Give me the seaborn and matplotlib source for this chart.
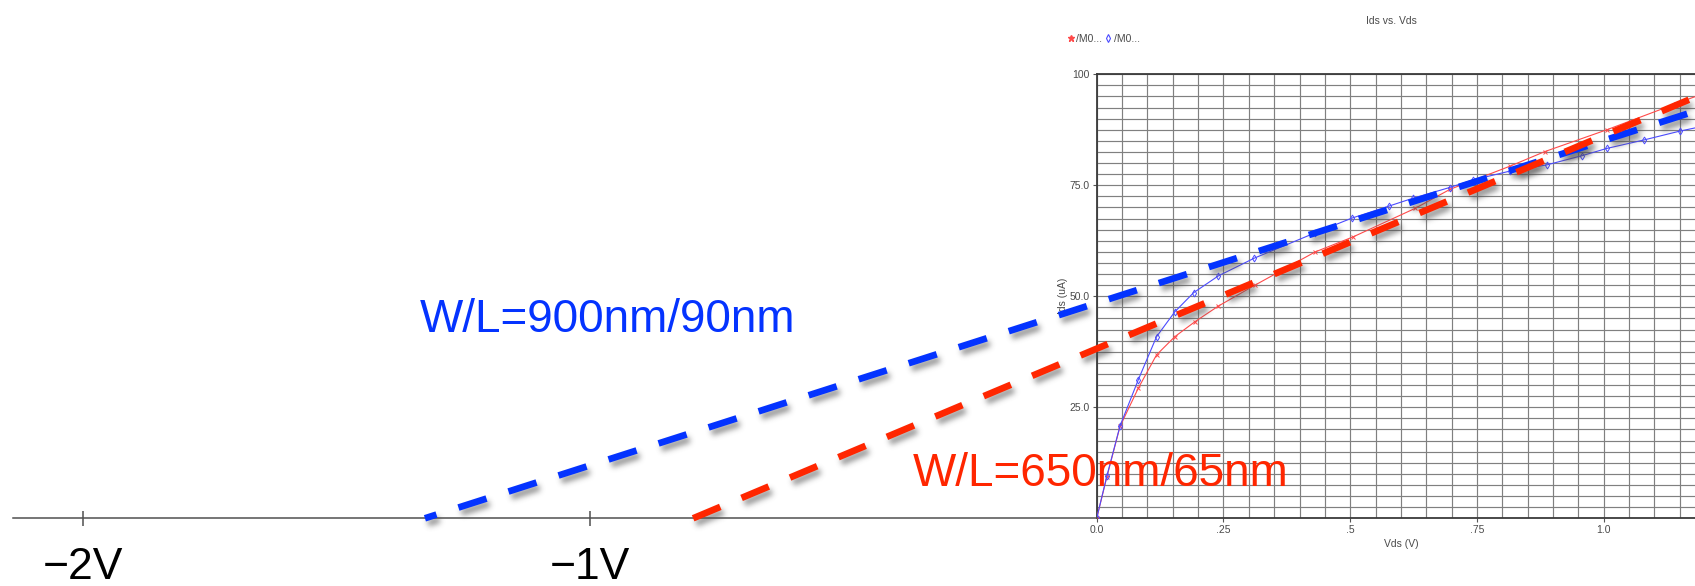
import numpy as np
import matplotlib
matplotlib.use("Agg")
import matplotlib.pyplot as plt
from matplotlib.lines import Line2D
from matplotlib.ticker import FixedLocator, MultipleLocator
import seaborn as sns

# Simulated Ids-Vds sweeps (Vds in V, Ids in uA)
vds_650 = [0.0, 0.020, 0.046, 0.082, 0.118, 0.154, 0.194, 0.240, 0.312, 0.431,
           0.506, 0.628, 0.697, 0.815, 0.884, 1.006, 1.143, 1.200]
ids_650 = [0.0, 9.3, 20.7, 29.3, 36.8, 40.9, 44.3, 47.8, 52.5, 60.0,
           63.4, 69.8, 74.1, 79.3, 82.6, 87.5, 93.4, 95.8]
vds_900 = [0.0, 0.020, 0.046, 0.082, 0.118, 0.154, 0.191, 0.240, 0.311, 0.431,
           0.503, 0.576, 0.624, 0.696, 0.742, 0.815, 0.888, 0.958, 1.006, 1.079,
           1.150, 1.200]
ids_900 = [0.0, 9.5, 20.8, 31.2, 40.9, 46.5, 50.8, 54.6, 58.6, 64.3,
           67.6, 70.3, 72.1, 74.5, 76.2, 78.2, 79.6, 81.7, 83.3, 85.2,
           87.2, 88.4]

# Saturation-region tangents extended back to the Vds axis (Early voltage)
fit_650_v = [-0.796, 1.20]
fit_650_i = [0.0, 95.8]
fit_900_v = [-1.325, 1.20]
fit_900_i = [0.0, 92.4]

x_ticks_inner = [0.0, 0.25, 0.5, 0.75, 1.0]
x_labels_inner = ["0.0", ".25", ".5", ".75", "1.0"]
y_ticks_inner = [25, 50, 75, 100]
y_labels_inner = ["25.0", "50.0", "75.0", "100"]
x_ticks_outer = [-2, -1]
x_labels_outer = ["\u22122V", "\u22121V"]
wl_labels = ["W/L=650nm/65nm", "W/L=900nm/90nm"]
legend_labels = ["/M0...", "/M0..."]

RED = "#FF2600"
BLUE = "#0433FF"
CURVE_RED = "#ff4a4a"
CURVE_BLUE = "#4b4bff"
TXT_GRAY = "#4a4a4a"

sns.set_theme(style="white")
plt.rcParams["font.family"] = ["Liberation Sans", "DejaVu Sans"]
SMALL_FONT = ["Liberation Sans Narrow", "Liberation Sans", "DejaVu Sans"]

W, H = 1695, 586
PX_PER_V = 507.0
PX_PER_UA = 4.44
X0 = 1096.7   # pixel column of Vds = 0
Y0 = 518.3    # pixel row (from top) of Ids = 0

fig = plt.figure(figsize=(W / 100, H / 100), dpi=100)
fig.patch.set_facecolor("white")


def soft_shadow(dx=3, dy=5, sigma=2.8, strength=0.6, gray=0.3):
    """agg filter: blurred, offset grey copy of the artist's alpha."""
    radius = int(3 * sigma)
    kern = np.exp(-0.5 * (np.arange(-radius, radius + 1) / sigma) ** 2)
    kern /= kern.sum()
    pad = radius + max(abs(dx), abs(dy))

    def _filter(im, dpi):
        a = np.pad(im[..., 3], pad)
        a = np.apply_along_axis(np.convolve, 1, a, kern, mode="same")
        a = np.apply_along_axis(np.convolve, 0, a, kern, mode="same")
        a = np.roll(np.roll(a, dx, axis=1), dy, axis=0)
        out = np.empty(a.shape + (4,))
        out[..., :3] = gray
        out[..., 3] = np.clip(a * strength, 0, 1)
        return out, -pad, -pad

    return _filter


# ---- simulator-style Ids vs. Vds panel ----
ax_in = fig.add_axes([X0 / W, (H - Y0) / H, 1.2 * PX_PER_V / W, 100 * PX_PER_UA / H])
ax_in.set_facecolor("white")
ax_in.set_xlim(0, 1.2)
ax_in.set_ylim(0, 100)

sns.lineplot(x=vds_650, y=ids_650, ax=ax_in, color=CURVE_RED, lw=0.8,
             marker="x", markersize=3.5, markeredgewidth=0.7,
             markeredgecolor=CURVE_RED, sort=False, estimator=None, zorder=3)
sns.lineplot(x=vds_900, y=ids_900, ax=ax_in, color=CURVE_BLUE, lw=0.8,
             marker="d", markersize=3.5, markeredgewidth=0.7,
             markeredgecolor=CURVE_BLUE, markerfacecolor="none",
             sort=False, estimator=None, zorder=3)

ax_in.xaxis.set_major_locator(FixedLocator(x_ticks_inner))
ax_in.set_xticklabels(x_labels_inner)
ax_in.xaxis.set_minor_locator(MultipleLocator(0.05))
ax_in.yaxis.set_major_locator(FixedLocator(y_ticks_inner))
ax_in.set_yticklabels(y_labels_inner)
ax_in.yaxis.set_minor_locator(MultipleLocator(2.5))
ax_in.set_axisbelow(True)
ax_in.grid(which="both", color="#808080", lw=0.85)
for side in ("left", "bottom", "top"):
    ax_in.spines[side].set_color("#3a3a3a")
    ax_in.spines[side].set_linewidth(1.3)
ax_in.spines["right"].set_visible(False)
ax_in.tick_params(which="major", direction="out", length=3, width=0.8,
                  color="#555555", labelsize=7.5, labelcolor=TXT_GRAY, pad=2,
                  bottom=True, left=True)
ax_in.tick_params(which="minor", length=0)
for lab in ax_in.get_xticklabels() + ax_in.get_yticklabels():
    lab.set_family(SMALL_FONT)
ax_in.set_xlabel("Vds (V)", fontsize=7.5, color=TXT_GRAY, labelpad=3, family=SMALL_FONT)
ax_in.set_ylabel("Ids (uA)", fontsize=7.5, color=TXT_GRAY, labelpad=1, family=SMALL_FONT)
ax_in.set_title("Ids vs. Vds", x=0.484, pad=36, fontsize=7.5, color=TXT_GRAY,
                family=SMALL_FONT)

handles = [
    Line2D([], [], ls="none", marker="*", color=CURVE_RED, markersize=4.5),
    Line2D([], [], ls="none", marker="d", color=CURVE_BLUE, markersize=4,
           markerfacecolor="none", markeredgewidth=0.8),
]
leg = ax_in.legend(handles, legend_labels, loc="center left",
                   bbox_to_anchor=(1068 / W, 1 - 39 / H),
                   bbox_transform=fig.transFigure, ncol=2, frameon=False,
                   handlelength=0.5, handletextpad=0.3, columnspacing=0.3,
                   borderpad=0, borderaxespad=0,
                   labelcolor=TXT_GRAY, prop={"family": SMALL_FONT, "size": 7.5})

# ---- extended Vds axis with extrapolated tangents ----
ax = fig.add_axes([0, 0, 1, 1])
ax.patch.set_alpha(0)
ax.set_xlim(-X0 / PX_PER_V, (W - X0) / PX_PER_V)
ax.set_ylim(-(H - Y0) / PX_PER_UA, Y0 / PX_PER_UA)

DASH_LW = 4.8
for v, i, col, offset in ((fit_900_v, fit_900_i, BLUE, 2.6),
                          (fit_650_v, fit_650_i, RED, 0.0)):
    style = (offset, (4.42, 3.46))
    shadow, = ax.plot(v, i, color="black", lw=DASH_LW, linestyle=style,
                      solid_capstyle="butt", dash_capstyle="butt", zorder=2)
    shadow.set_agg_filter(soft_shadow())
    sns.lineplot(x=v, y=i, ax=ax, color=col, lw=DASH_LW, sort=False,
                 estimator=None, zorder=3)
    line = ax.lines[-1]
    line.set_linestyle(style)
    line.set_dash_capstyle("butt")

for s in ("top", "right", "left"):
    ax.spines[s].set_visible(False)
ax.spines["bottom"].set_position(("data", 0))
ax.spines["bottom"].set_bounds(-2.1375, 0)
ax.spines["bottom"].set_color("#505050")
ax.spines["bottom"].set_linewidth(1.1)
ax.set_yticks([])
ax.set_xticks(x_ticks_outer, x_labels_outer)
ax.tick_params(axis="x", direction="inout", length=10.8, width=1.1,
               color="#505050", labelsize=32, pad=15, labelcolor="black",
               bottom=True)

ax.text(-1.335, 42.0, wl_labels[1], color=BLUE, fontsize=33,
        ha="left", va="baseline", zorder=4)
ax.text(-0.362, 7.3, wl_labels[0], color=RED, fontsize=33,
        ha="left", va="baseline", zorder=4)

fig.savefig("out.png", dpi=100)
